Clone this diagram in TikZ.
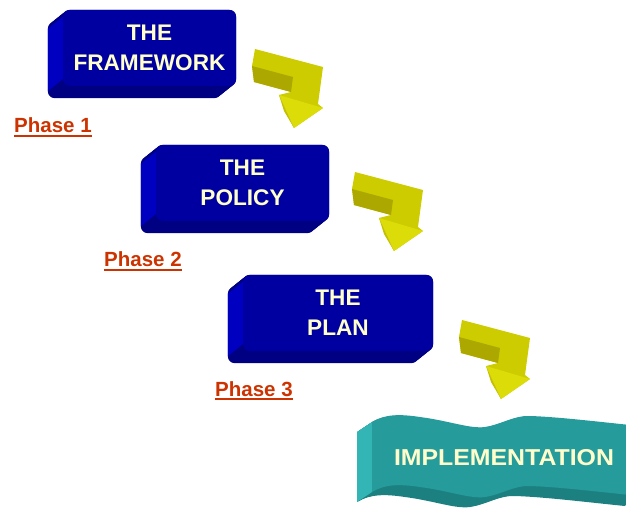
\documentclass[tikz,border=0pt]{standalone}
\usepackage{fontspec}
\setmainfont{Liberation Sans}
\usepackage{graphicx}
\usetikzlibrary{calc,backgrounds}
\definecolor{boxfront}{HTML}{0000A0}
\definecolor{boxleft}{HTML}{0000C0}
\definecolor{boxbottom}{HTML}{000082}
\definecolor{cream}{HTML}{FFFFCC}
\definecolor{phasecol}{HTML}{CC3300}
\definecolor{arrmain}{HTML}{CCCC00}
\definecolor{arrdark}{HTML}{ADA800}
\definecolor{arrlight}{HTML}{DCDC08}
\definecolor{arrside}{HTML}{C4C000}
\definecolor{tealfront}{HTML}{269B9B}
\definecolor{tealleft}{HTML}{33B5B5}
\definecolor{tealbottom}{HTML}{1D8080}
\newcommand{\boxdepth}[1]{%
  \begin{scope}[on background layer]
    \foreach \i in {0,1,...,15}{
      \fill[boxbottom, rounded corners=7pt] ($(#1.north west)+(-\i,0.8*\i)$) rectangle ($(#1.south east)+(-\i,0.8*\i)$);
    }
    \fill[boxleft] ($(#1.north west)+(0,7)$) -- ($(#1.north west)+(-15,19)$) -- ($(#1.south west)+(-15,5)$) -- ($(#1.south west)+(0,-7)$) -- cycle;
  \end{scope}}
\tikzset{
  frontbox/.style={rounded corners=7pt, fill=boxfront, inner sep=0pt, text=cream,
    font=\bfseries\fontsize{22.6}{30}\selectfont, align=center, minimum height=76pt},
  phase/.style={anchor=base west, inner sep=0pt, text=phasecol, font=\bfseries\fontsize{20.5}{24}\selectfont},
  phaseline/.style={phasecol, line width=1.6pt},
  bentarrow/.pic={
    \fill[arrmain] (0,0) -- (68,18) -- (63,55) -- (68,59) -- (39,79) -- (24,46) -- (36,43) -- (-1,33) -- (-3,17) -- cycle;
    \fill[arrdark] (-3,17) -- (38,28) -- (36,43) -- (-1,33) -- cycle;
    \fill[arrlight] (24,46) -- (39,79) -- (68,59) -- cycle;
    \fill[arrside] (24,46) -- (39,79) -- (29,62) -- cycle;
  },
  wavepath/.pic={
    \path[pic actions] (372,422) .. controls (385,414) and (400,414) .. (420,417)
      .. controls (450,421) and (470,429) .. (485,427)
      .. controls (500,425) and (515,415) .. (530,416)
      .. controls (560,417) and (600,422) .. (640,426)
      -- (640,496)
      .. controls (600,492) and (560,487) .. (530,486)
      .. controls (515,485) and (500,495) .. (485,497)
      .. controls (470,499) and (450,491) .. (420,487)
      .. controls (400,484) and (385,484) .. (372,492) -- cycle;
  }
}
\begin{document}
\begin{tikzpicture}[x=1pt,y=-1pt]
\useasboundingbox (0,0) rectangle (626,510);

% blocks
\node[frontbox, minimum width=173pt] (fw) at (149.5,48) {THE\\FRAMEWORK};
\boxdepth{fw}
\node[frontbox, minimum width=173pt] (pol) at (242.5,183) {THE\\POLICY};
\boxdepth{pol}
\node[frontbox, minimum width=190pt] (plan) at (338,313) {THE\\PLAN};
\boxdepth{plan}

% phases
\node[phase] (ph1) at (14,133) {Phase 1};
\draw[phaseline] ($(ph1.base west)+(0,2.8)$) -- ($(ph1.base east)+(0,2.8)$);
\node[phase] (ph2) at (104,267) {Phase 2};
\draw[phaseline] ($(ph2.base west)+(0,2.8)$) -- ($(ph2.base east)+(0,2.8)$);
\node[phase] (ph3) at (215,396) {Phase 3};
\draw[phaseline] ($(ph3.base west)+(0,2.8)$) -- ($(ph3.base east)+(0,2.8)$);

% arrows
\pic at (255,49) {bentarrow};
\pic at (355,172) {bentarrow};
\pic at (462,320) {bentarrow};

% implementation banner
\begin{scope}
  \clip (0,0) rectangle (626,510);
  \foreach \i in {1,...,15}{
    \pic[fill=tealbottom] at (-\i,0.667*\i) {wavepath};
  }
  \fill[tealleft] (372,422) -- (357,432) -- (357,502) -- (372,492) -- cycle;
  \pic[fill=tealfront] at (0,0) {wavepath};
\end{scope}
\node[text=cream, inner sep=0pt, anchor=base, font=\bfseries\fontsize{23}{28}\selectfont] (impl) at (504,465) {\scalebox{1.08}[1]{IMPLEMENTATION}};
\end{tikzpicture}
\end{document}
